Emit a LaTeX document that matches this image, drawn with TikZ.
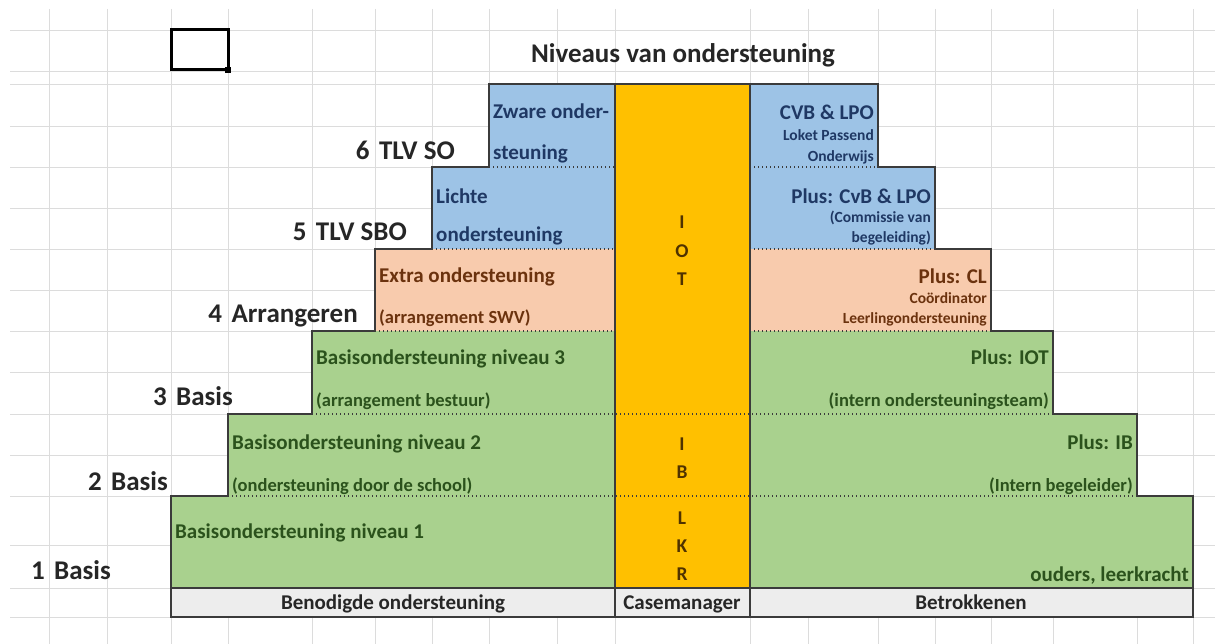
\documentclass[tikz,border=0pt]{standalone}
\usepackage{fontspec}
\setmainfont{Carlito}
\usepackage{xcolor}
\usepackage{tikz}
\usetikzlibrary{positioning}

\definecolor{gridgray}{HTML}{DCDCDC}
\definecolor{rimgray}{HTML}{3B3B3B}
\definecolor{celblue}{HTML}{9DC3E6}
\definecolor{celpeach}{HTML}{F8CBAD}
\definecolor{celgreen}{HTML}{A9D18E}
\definecolor{celorange}{HTML}{FFC000}
\definecolor{celgray}{HTML}{EDEDED}
\definecolor{txtblue}{HTML}{1F3864}
\definecolor{txtbrown}{HTML}{6B320E}
\definecolor{txtgreen}{HTML}{2B521C}
\definecolor{txtgold}{HTML}{4F3200}
\definecolor{txtdark}{HTML}{262626}

\begin{document}
\begin{tikzpicture}[
    x=1pt, y=-1pt,
    cellline/.style = {draw=gridgray, line width=0.9pt},
    rim/.style      = {draw=rimgray, line width=1.5pt},
    dotline/.style  = {draw=rimgray, line width=1.4pt, dash pattern=on 1.4pt off 2.6pt},
    txt/.style      = {inner sep=0pt, yshift=-4.5pt, font=\fontsize{21}{24}\selectfont\bfseries},
    sub/.style      = {inner sep=0pt, yshift=-4.5pt, font=\fontsize{18.5}{22}\selectfont\bfseries},
    smalltxt/.style = {inner sep=0pt, yshift=-4pt, font=\fontsize{15.5}{18}\selectfont\bfseries},
    lft/.style      = {anchor=mid west},
    rgt/.style      = {anchor=mid east},
    lvl/.style      = {inner sep=0pt, yshift=-5pt, anchor=mid east, text=txtdark,
                       font=\fontsize{27}{30}\selectfont\bfseries},
    letter/.style   = {inner sep=0pt, yshift=-5pt, anchor=mid, text=txtgold,
                       font=\fontsize{19.5}{22}\selectfont\bfseries},
    foot/.style     = {inner sep=0pt, yshift=-4pt, anchor=mid, text=txtdark,
                       font=\fontsize{21}{24}\selectfont\bfseries}
]

%% Sheet background and cell grid
\fill[white] (0,0) rectangle (1215,644);
\useasboundingbox (0,0) rectangle (1215,644);
\foreach \gx in {49,107,171,228,312,375,432,489,557,615,750,808,878,935,991,1053,1137,1193}
    \draw[cellline] (\gx,9) -- (\gx,644);
\foreach \gy in {30,71,84,126,167,208,249,290,331,372,414,455,496,545,588,617}
    \draw[cellline] (10,\gy) -- (1215,\gy);

%% Selected cell
\draw[line width=3pt] (171,30) rectangle (228,70);
\fill (225,67) rectangle (231,73);

%% Title
\node[inner sep=0pt, yshift=-5pt, anchor=mid, text=txtdark, font=\fontsize{27}{30}\selectfont\bfseries]
    (titel) at (683,55) {Niveaus van ondersteuning};

%% Cell fills – left column
\fill[celblue]  (489,84)  rectangle (615,167);
\fill[celblue]  (432,167) rectangle (615,249);
\fill[celpeach] (375,249) rectangle (615,331);
\fill[celgreen] (312,331) rectangle (615,414);
\fill[celgreen] (228,414) rectangle (615,496);
\fill[celgreen] (171,496) rectangle (615,588);

%% Cell fills – casemanager column
\fill[celorange] (615,84) rectangle (750,588);

%% Cell fills – right column
\fill[celblue]  (750,84)  rectangle (878,167);
\fill[celblue]  (750,167) rectangle (935,249);
\fill[celpeach] (750,249) rectangle (991,331);
\fill[celgreen] (750,331) rectangle (1053,414);
\fill[celgreen] (750,414) rectangle (1137,496);
\fill[celgreen] (750,496) rectangle (1193,588);

%% Footer row
\fill[celgray] (171,588) rectangle (1193,617);

%% Dotted level borders
\draw[dotline] (489,167) -- (615,167);  \draw[dotline] (750,167) -- (878,167);
\draw[dotline] (432,249) -- (615,249);  \draw[dotline] (750,249) -- (935,249);
\draw[dotline] (375,331) -- (615,331);  \draw[dotline] (750,331) -- (991,331);
\draw[dotline] (312,414) -- (1053,414);
\draw[dotline] (228,496) -- (1137,496);

%% Stepped outline and column borders
\draw[rim] (615,84) -- (489,84) -- (489,167) -- (432,167) -- (432,249)
    -- (375,249) -- (375,331) -- (312,331) -- (312,414) -- (228,414)
    -- (228,496) -- (171,496) -- (171,617) -- (1193,617) -- (1193,496)
    -- (1137,496) -- (1137,414) -- (1053,414) -- (1053,331) -- (991,331)
    -- (991,249) -- (935,249) -- (935,167) -- (878,167) -- (878,84) -- cycle;
\draw[rim] (615,84) -- (615,617);
\draw[rim] (750,84) -- (750,617);
\draw[rim] (171,588) -- (1193,588);

%% Level labels
\node[lvl] (lvl6) at (455,152) {6\hspace{.35em}TLV SO};
\node[lvl] (lvl5) at (407,233) {5\hspace{.35em}TLV SBO};
\node[lvl] (lvl4) at (358,315) {4\hspace{.35em}Arrangeren};
\node[lvl] (lvl3) at (233,398) {3\hspace{.35em}Basis};
\node[lvl] (lvl2) at (168,483) {2\hspace{.35em}Basis};
\node[lvl] (lvl1) at (111,572) {1\hspace{.35em}Basis};

%% Needed support (left)
\node[txt, lft, text=txtblue]  (zware1)  at (493,112) {Zware onder-};
\node[txt, lft, text=txtblue]  (zware2)  at (493,153) {steuning};
\node[txt, lft, text=txtblue]  (lichte1) at (436,197) {Lichte};
\node[txt, lft, text=txtblue]  (lichte2) at (436,235) {ondersteuning};
\node[txt, lft, text=txtbrown] (extra1)  at (379,276) {Extra ondersteuning};
\node[sub, lft, text=txtbrown] (extra2)  at (379,317) {(arrangement SWV)};
\node[txt, lft, text=txtgreen] (basis3a) at (316,358) {Basisondersteuning niveau 3};
\node[sub, lft, text=txtgreen] (basis3b) at (316,400) {(arrangement bestuur)};
\node[txt, lft, text=txtgreen] (basis2a) at (232,443) {Basisondersteuning niveau 2};
\node[sub, lft, text=txtgreen] (basis2b) at (232,485) {(ondersteuning door de school)};
\node[txt, lft, text=txtgreen] (basis1a) at (175,532) {Basisondersteuning niveau 1};

%% Casemanager letters
\foreach \ch/\cy in {I/221, O/250, T/278, I/443, B/471, L/517, K/545, R/573}
    \node[letter] (cm\cy) at (682,\cy) {\ch};

%% Involved parties (right)
\node[txt, rgt, text=txtblue]       (cvb1)  at (874,113) {CVB \& LPO};
\node[smalltxt, rgt, text=txtblue]  (cvb2)  at (874,134) {Loket Passend};
\node[smalltxt, rgt, text=txtblue]  (cvb3)  at (874,155) {Onderwijs};
\node[txt, rgt, text=txtblue]       (pcvb1) at (931,197) {Plus: CvB \& LPO};
\node[smalltxt, rgt, text=txtblue]  (pcvb2) at (931,216) {(Commissie van};
\node[smalltxt, rgt, text=txtblue]  (pcvb3) at (931,236) {begeleiding)};
\node[txt, rgt, text=txtbrown]      (pcl1)  at (987,277) {Plus: CL};
\node[smalltxt, rgt, text=txtbrown] (pcl2)  at (987,297) {Coördinator};
\node[smalltxt, rgt, text=txtbrown] (pcl3)  at (987,317) {Leerlingondersteuning};
\node[txt, rgt, text=txtgreen]      (piot1) at (1049,358) {Plus: IOT};
\node[sub, rgt, text=txtgreen]      (piot2) at (1049,400) {(intern ondersteuningsteam)};
\node[txt, rgt, text=txtgreen]      (pib1)  at (1133,443) {Plus: IB};
\node[sub, rgt, text=txtgreen]      (pib2)  at (1133,485) {(Intern begeleider)};
\node[txt, rgt, text=txtgreen]      (ouders) at (1189,575) {ouders, leerkracht};

%% Footer captions
\node[foot] (benodigd) at (393,603) {Benodigde ondersteuning};
\node[foot] (casemgr)  at (682,603) {Casemanager};
\node[foot] (betrok)   at (971,603) {Betrokkenen};

\end{tikzpicture}
\end{document}
